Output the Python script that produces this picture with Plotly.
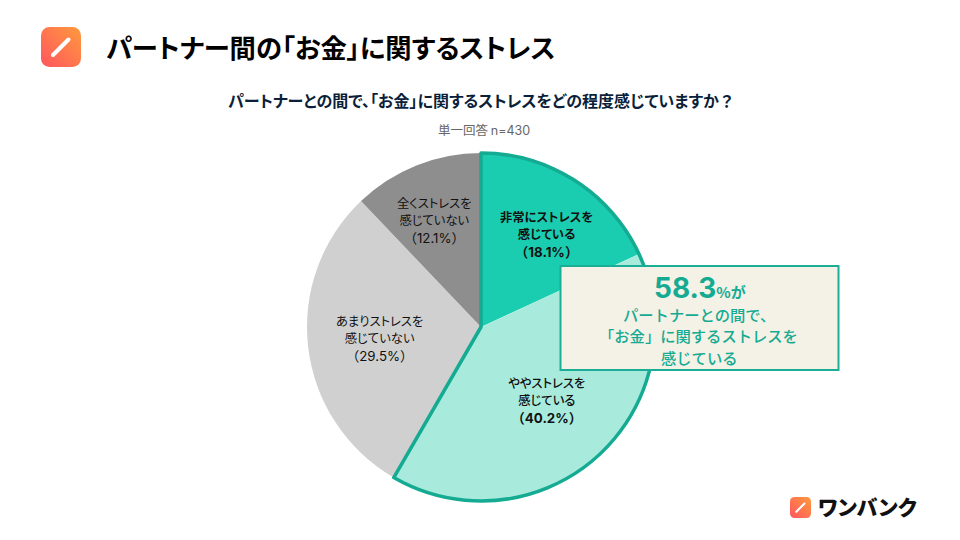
import base64
import plotly.graph_objects as go

categories = ["非常にストレスを<br>感じている", "ややストレスを<br>感じている", "あまりストレスを<br>感じていない", "全くストレスを<br>感じていない"]
values = [18.1, 40.2, 29.5, 12.1]
colors = ["#1ACDB0", "#A8EBDD", "#D0D0D0", "#8E8E8E"]
label_x = [546, 546, 379, 434]
label_y = [235, 400, 338, 221]
label_weight = [600, 500, 400, 400]
stressed_total = "58.3"
W, H = 960, 540
FONT = "Noto Sans CJK JP"
TEAL = "#14AB92"
PALT = "font-feature-settings:'palt'"


def px(x):
    return x / W


def py(y):
    return 1 - y / H


def note(text, x, y, size, color="#000000", weight=400, xanchor="center"):
    return dict(text=text, x=px(x), y=py(y), xref="paper", yref="paper", showarrow=False,
                xanchor=xanchor, yanchor="middle", align="center",
                font=dict(family=FONT, size=size, color=color, weight=weight))


logo_svg = """<svg xmlns="http://www.w3.org/2000/svg" width="80" height="80" viewBox="0 0 80 80">
<defs><linearGradient id="g" x1="1" y1="0" x2="0" y2="1">
<stop offset="0" stop-color="#FF9A3C"/><stop offset="1" stop-color="#FF5560"/></linearGradient></defs>
<rect width="80" height="80" rx="17" fill="url(#g)"/>
<line x1="55" y1="25" x2="24" y2="56" stroke="#FFFFFF" stroke-width="8" stroke-linecap="round"/></svg>"""
logo_src = "data:image/svg+xml;base64," + base64.b64encode(logo_svg.encode()).decode()

pie_domain = dict(x=[px(307), px(655)], y=[py(501), py(153)])

fig = go.Figure()
fig.add_trace(go.Pie(values=values, sort=False, direction="clockwise", rotation=0,
                     marker=dict(colors=colors, line=dict(width=0)),
                     textinfo="none", hoverinfo="skip", showlegend=False, domain=pie_domain))
# outline only around the two "stressed" slices
fig.add_trace(go.Pie(values=[sum(values[:2]), sum(values[2:])], sort=False, direction="clockwise", rotation=0,
                     marker=dict(colors=["rgba(0,0,0,0)", "rgba(0,0,0,0)"],
                                 line=dict(color=TEAL, width=[3.5, 0])),
                     textinfo="none", hoverinfo="skip", showlegend=False, domain=pie_domain))

annotations = [
    note(f"<span style=\"{PALT}\">パートナー間の「お金」に関するストレス</span>", 104, 47, 26.3, "#000000", 700, "left"),
    note(f"<span style=\"{PALT}\">パートナーとの間で、「お金」に関するストレスをどの程度感じていますか</span>？", 481, 100, 16, "#0B1F3A", 700),
    note("単一回答 <span style=\"font-family:Inter\">n=430</span>", 484.5, 129, 12.5, "#666666"),
]
for cat, val, x, y, weight in zip(categories, values, label_x, label_y, label_weight):
    # one block per slice; the 13.3px base size sets the line spacing
    pct = f"（<span style=\"font-family:Inter\">{val}%</span>）"
    if weight > 400:
        pct = f"<b>{pct}</b>"
    annotations.append(note(f"<span style=\"font-size:12.3px;{PALT}\">{cat}</span><br>{pct}", x, y, 13.3, "#111111", weight))

annotations += [
    note(f"<span style=\"font-family:Inter;font-size:28px;font-weight:700\">{stressed_total}</span>"
         "<span style=\"font-size:15px;font-weight:700\">%が</span>", 700, 288, 15, TEAL, 700),
    note("パートナーとの間で、", 699, 314, 15.3, TEAL, 500),
    note("「お金」に関するストレスを", 698, 335, 15.3, TEAL, 500),
    note("感じている", 699, 356.5, 15.3, TEAL, 500),
    note(f"<span style=\"{PALT}\">ワンバンク</span>", 816, 506, 21, "#111111", 900, "left"),
]

fig.update_layout(
    width=W, height=H, margin=dict(l=0, r=0, t=0, b=0), paper_bgcolor="#FFFFFF",
    annotations=annotations,
    shapes=[dict(type="rect", xref="paper", yref="paper", x0=px(560.5), x1=px(838.5), y0=py(370), y1=py(266),
                 fillcolor="#F4F1E6", line=dict(color="#1BAE96", width=2), layer="above")],
    images=[
        dict(source=logo_src, xref="paper", yref="paper", x=px(41), y=py(27), sizex=40 / W, sizey=40 / H,
             xanchor="left", yanchor="top", sizing="stretch", layer="above"),
        dict(source=logo_src, xref="paper", yref="paper", x=px(790), y=py(497), sizex=21 / W, sizey=21 / H,
             xanchor="left", yanchor="top", sizing="stretch", layer="above"),
    ],
)

# the page's default 8px body margin would push the figure off position
fig.write_html("out.html", config={"displayModeBar": False}, post_script="document.body.style.margin='0';")
